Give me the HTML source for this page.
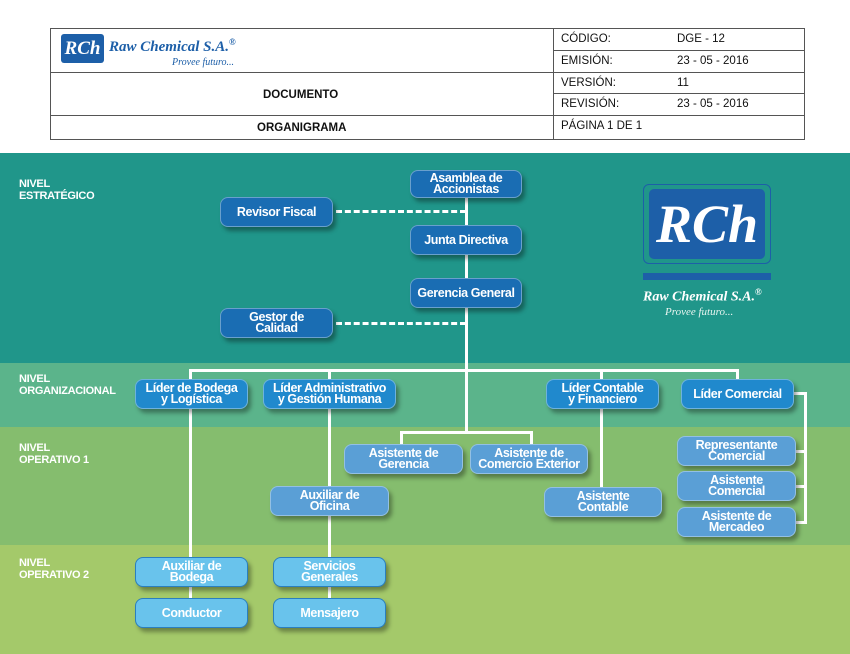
<!DOCTYPE html>
<html><head><meta charset="utf-8"><style>
*{margin:0;padding:0;box-sizing:border-box}
body{width:850px;height:654px;position:relative;overflow:hidden;background:#fff;font-family:"Liberation Sans",sans-serif}
.a{position:absolute}
.band{position:absolute;left:0;width:850px}
.lvl{position:absolute;left:19px;color:#fff;font-weight:bold;font-size:11px;line-height:12px;letter-spacing:-0.3px}
.b{position:absolute;border-radius:8px;color:#fff;font-weight:bold;font-size:12.5px;line-height:11px;letter-spacing:-0.4px;display:flex;align-items:center;justify-content:center;text-align:center;box-shadow:3px 4px 4px rgba(0,0,0,.35);border:1.5px solid rgba(255,255,255,.35)}
.d{background:#1a6db3}.m{background:#2089cd}.l{background:#5a9fd6}.c{background:#69c3ec;border-color:#2a7fbf}
.ln{position:absolute;background:#fff}
.hd{position:absolute;font-size:11.5px;color:#111}
</style></head><body>
<div class="a" style="left:50px;top:28px;width:755px;height:112px;border:1px solid #555"></div>
<div class="a" style="left:553px;top:28px;width:1px;height:112px;background:#555"></div>
<div class="a" style="left:50px;top:72px;width:503px;height:1px;background:#555"></div>
<div class="a" style="left:50px;top:115px;width:755px;height:1px;background:#555"></div>
<div class="a" style="left:553px;top:50px;width:252px;height:1px;background:#555"></div>
<div class="a" style="left:553px;top:72px;width:252px;height:1px;background:#555"></div>
<div class="a" style="left:553px;top:93px;width:252px;height:1px;background:#555"></div>
<div class="a" style="left:61px;top:34px;width:43px;height:29px;background:#1d5fa8;border-radius:3px;color:#fff;font:italic bold 19px 'Liberation Serif',serif;text-align:center;line-height:29px">RCh</div>
<div class="hd" style="left:109px;top:37px;color:#1d5fa8;font:italic bold 15px 'Liberation Serif',serif">Raw Chemical S.A.<sup style="font-size:9px">®</sup></div>
<div class="hd" style="left:172px;top:57px;color:#1d5fa8;font:italic 10px 'Liberation Serif',serif">Provee futuro...</div>
<div class="hd" style="left:263px;top:89px;font-weight:bold">DOCUMENTO</div>
<div class="hd" style="left:257px;top:122px;font-weight:bold">ORGANIGRAMA</div>
<div class="hd" style="left:561px;top:33px">CÓDIGO:</div><div class="hd" style="left:677px;top:33px">DGE - 12</div>
<div class="hd" style="left:561px;top:55px">EMISIÓN:</div><div class="hd" style="left:677px;top:55px">23 - 05 - 2016</div>
<div class="hd" style="left:561px;top:77px">VERSIÓN:</div><div class="hd" style="left:677px;top:77px">11</div>
<div class="hd" style="left:561px;top:98px">REVISIÓN:</div><div class="hd" style="left:677px;top:98px">23 - 05 - 2016</div>
<div class="hd" style="left:561px;top:120px">PÁGINA 1 DE 1</div>
<div class="band" style="top:153px;height:210px;background:#20968a"></div>
<div class="band" style="top:363px;height:64px;background:#5bb48b"></div>
<div class="band" style="top:427px;height:118px;background:#85bd6e"></div>
<div class="band" style="top:545px;height:109px;background:#a4c96a"></div>
<div class="lvl" style="top:178px">NIVEL<br>ESTRATÉGICO</div>
<div class="lvl" style="top:373px">NIVEL<br>ORGANIZACIONAL</div>
<div class="lvl" style="top:442px">NIVEL<br>OPERATIVO 1</div>
<div class="lvl" style="top:557px">NIVEL<br>OPERATIVO 2</div>
<div class="a" style="left:643px;top:184px;width:128px;height:80px;border:1px solid #1d5fa8;border-radius:6px"></div>
<div class="a" style="left:649px;top:189px;width:116px;height:70px;background:#1d5fa8;border-radius:5px;color:#fff;font:italic bold 54px 'Liberation Serif',serif;text-align:center;line-height:70px">RCh</div>
<div class="a" style="left:643px;top:273px;width:128px;height:7px;background:#1d5fa8"></div>
<div class="a" style="left:643px;top:287px;color:#fff;font:italic bold 14px 'Liberation Serif',serif;white-space:nowrap">Raw Chemical S.A.<sup style="font-size:9px">®</sup></div>
<div class="a" style="left:665px;top:306px;color:#e8f5f0;font:italic 11px 'Liberation Serif',serif">Provee futuro...</div>
<div class="ln" style="left:465px;top:195px;width:3px;height:237px"></div>
<div class="ln" style="left:189px;top:369px;width:550px;height:3px"></div>
<div class="ln" style="left:189px;top:369px;width:3px;height:190px"></div>
<div class="ln" style="left:328px;top:369px;width:3px;height:190px"></div>
<div class="ln" style="left:600px;top:369px;width:3px;height:120px"></div>
<div class="ln" style="left:736px;top:369px;width:3px;height:12px"></div>
<div class="ln" style="left:400px;top:431px;width:133px;height:3px"></div>
<div class="ln" style="left:400px;top:431px;width:3px;height:14px"></div>
<div class="ln" style="left:530px;top:431px;width:3px;height:14px"></div>
<div class="ln" style="left:794px;top:392px;width:13px;height:3px"></div>
<div class="ln" style="left:804px;top:392px;width:3px;height:132px"></div>
<div class="ln" style="left:794px;top:450px;width:13px;height:3px"></div>
<div class="ln" style="left:794px;top:485px;width:13px;height:3px"></div>
<div class="ln" style="left:794px;top:521px;width:13px;height:3px"></div>
<div class="ln" style="left:189px;top:585px;width:3px;height:15px"></div>
<div class="ln" style="left:328px;top:585px;width:3px;height:15px"></div>
<div class="a" style="left:336px;top:210px;width:130px;border-top:3px dashed #fff"></div>
<div class="a" style="left:336px;top:322px;width:130px;border-top:3px dashed #fff"></div>
<div class="b d" style="left:410px;top:170px;width:112px;height:28px">Asamblea de<br>Accionistas</div>
<div class="b d" style="left:220px;top:197px;width:113px;height:30px">Revisor Fiscal</div>
<div class="b d" style="left:410px;top:225px;width:112px;height:30px">Junta Directiva</div>
<div class="b d" style="left:410px;top:278px;width:112px;height:30px">Gerencia General</div>
<div class="b d" style="left:220px;top:308px;width:113px;height:30px">Gestor de<br>Calidad</div>
<div class="b m" style="left:135px;top:379px;width:113px;height:30px">Líder de Bodega<br>y Logística</div>
<div class="b m" style="left:263px;top:379px;width:133px;height:30px">Líder Administrativo<br>y Gestión Humana</div>
<div class="b m" style="left:546px;top:379px;width:113px;height:30px">Líder Contable<br>y Financiero</div>
<div class="b m" style="left:681px;top:379px;width:113px;height:30px">Líder Comercial</div>
<div class="b l" style="left:344px;top:444px;width:119px;height:30px">Asistente de<br>Gerencia</div>
<div class="b l" style="left:470px;top:444px;width:118px;height:30px">Asistente de<br>Comercio Exterior</div>
<div class="b l" style="left:270px;top:486px;width:119px;height:30px">Auxiliar de<br>Oficina</div>
<div class="b l" style="left:544px;top:487px;width:118px;height:30px">Asistente<br>Contable</div>
<div class="b l" style="left:677px;top:436px;width:119px;height:30px">Representante<br>Comercial</div>
<div class="b l" style="left:677px;top:471px;width:119px;height:30px">Asistente<br>Comercial</div>
<div class="b l" style="left:677px;top:507px;width:119px;height:30px">Asistente de<br>Mercadeo</div>
<div class="b c" style="left:135px;top:557px;width:113px;height:30px">Auxiliar de<br>Bodega</div>
<div class="b c" style="left:135px;top:598px;width:113px;height:30px">Conductor</div>
<div class="b c" style="left:273px;top:557px;width:113px;height:30px">Servicios<br>Generales</div>
<div class="b c" style="left:273px;top:598px;width:113px;height:30px">Mensajero</div>
</body></html>
